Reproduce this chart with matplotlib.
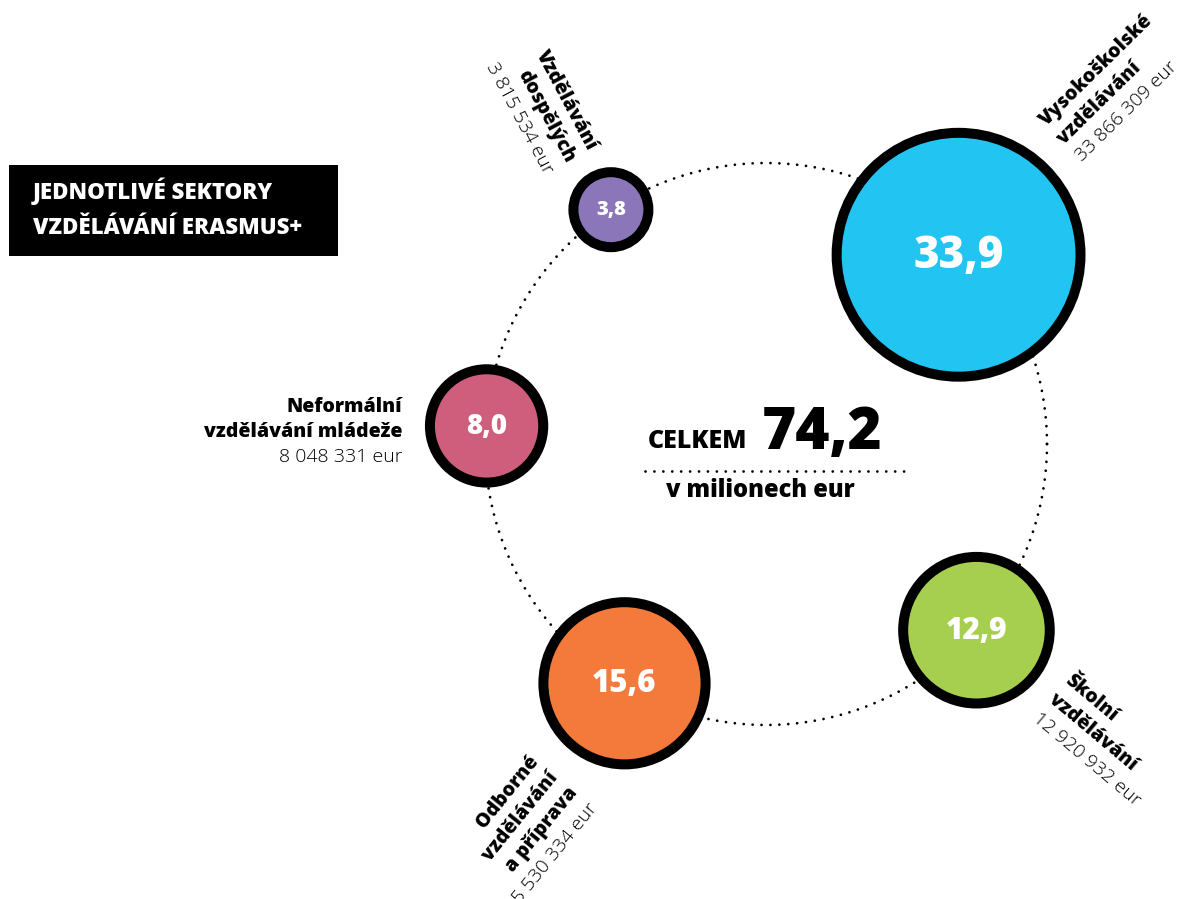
import numpy as np
import matplotlib
matplotlib.use("Agg")
from matplotlib import pyplot as plt
from matplotlib.patches import Circle, Rectangle

# data
sectors = ["Vysokoškolské\nvzdělávání", "Školní\nvzdělávání",
           "Odborné\nvzdělávání\na příprava", "Neformální\nvzdělávání mládeže",
           "Vzdělávání\ndospělých"]
amounts_eur = [33866309, 12920932, 15530334, 8048331, 3815534]
values_mil = [33.9, 12.9, 15.6, 8.0, 3.8]
title = "JEDNOTLIVÉ SEKTORY\nVZDĚLÁVÁNÍ ERASMUS+"
total_label = "CELKEM"
unit_label = "v milionech eur"

# styling / layout
colors = ["#22C4F2", "#A7CF4F", "#F47A3B", "#CE5E7C", "#8A76B8"]
value_sizes = [31.5, 21.5, 22.5, 20, 14.5]
hub = np.array([766, 444])
hub_r = 281
angles = [44.5, -41.5, -120.6, 176.3, 123.5]      # position on ring (deg)
dists = [270, 281, 278, 280, 281]
label_rot = [44.5, -40, 51, 0, -62]
label_ha = ["left", "left", "right", "right", "right"]
label_off = [(88, -128), (88, 52), (-85, 78), (-84, -14), (-23, -58)]
LINE = 25
RING = 10          # black ring thickness in px
K = 21.8           # px per sqrt(million eur)

FONT = "Open Sans"
HEAVY = 800
CAP = 0.714 * 100 / 72   # cap height in px per pt

def fmt(v, nd=1):
    return f"{v:.{nd}f}".replace(".", ",")

fig = plt.figure(figsize=(11.79, 8.99), dpi=100, facecolor="white")
ax = fig.add_axes([0, 0, 1, 1])
ax.set_xlim(0, 1179)
ax.set_ylim(899, 0)
ax.axis("off")

# dotted ring
t = np.linspace(0, 2 * np.pi, 800)
ax.plot(hub[0] + hub_r * np.cos(t), hub[1] + hub_r * np.sin(t), color="black",
        lw=2, linestyle=(0, (0.01, 3.2)), dash_capstyle="round", zorder=1)

for i, amt in enumerate(amounts_eur):
    mil = values_mil[i]
    a = np.deg2rad(angles[i])
    c = hub + dists[i] * np.array([np.cos(a), -np.sin(a)])
    r = K * np.sqrt(mil)
    ax.add_patch(Circle(c, r - RING / 2, facecolor=colors[i], edgecolor="black",
                        lw=RING * 0.72, zorder=3))
    ax.text(c[0], c[1] + value_sizes[i] * CAP / 2 - 2, fmt(mil), color="white",
            fontsize=value_sizes[i], fontweight=HEAVY, family=FONT,
            ha="center", va="baseline", zorder=4)

    # label lines
    lines = sectors[i].split("\n") + [f"{amt:,}".replace(",", " ") + " eur"]
    th = np.deg2rad(label_rot[i])
    down = np.array([np.sin(th), np.cos(th)])
    anchor = c + np.array(label_off[i])
    for j, txt in enumerate(lines):
        p = anchor + j * LINE * down
        bold = j < len(lines) - 1
        ax.text(p[0], p[1], txt, rotation=label_rot[i], rotation_mode="anchor",
                ha=label_ha[i], va="baseline", fontsize=14 if bold else 14,
                family=FONT, fontweight=HEAVY if bold else 300, color="black", zorder=5)

# centre total
total = sum(values_mil)
ax.text(747, 448, total_label, fontsize=18, fontweight=HEAVY, family=FONT,
        ha="right", va="baseline")
ax.text(762, 449, fmt(total), fontsize=42, fontweight=HEAVY, family=FONT,
        ha="left", va="baseline")
ax.plot([645, 908], [471, 471], color="black", lw=2, linestyle=(0, (0.01, 3.2)),
        dash_capstyle="round")
ax.text(760, 497, unit_label, fontsize=17, fontweight=HEAVY, family=FONT,
        ha="center", va="baseline")

# title box
ax.add_patch(Rectangle((9, 165), 329, 91, facecolor="black", edgecolor="none"))
for j, line in enumerate(title.split("\n")):
    ax.text(33, 199 + j * 35, line, color="white", fontsize=16, fontweight=HEAVY,
            family=FONT, ha="left", va="baseline")

fig.savefig("out.png", dpi=100, facecolor="white")
